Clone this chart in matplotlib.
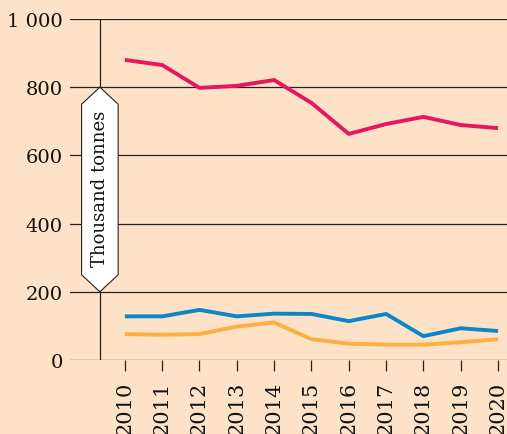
import matplotlib
matplotlib.use("Agg")
import matplotlib.pyplot as plt
from matplotlib.patches import Polygon

years = [2010, 2011, 2012, 2013, 2014, 2015, 2016, 2017, 2018, 2019, 2020]
red_series = [880, 865, 798, 804, 821, 754, 663, 692, 713, 689, 680]
blue_series = [128, 128, 147, 128, 136, 135, 114, 135, 70, 93, 85]
orange_series = [76, 74, 76, 98, 110, 61, 48, 45, 45, 52, 61]
y_ticks = [0, 200, 400, 600, 800, 1000]
y_tick_labels = ["0", "200", "400", "600", "800", "1 000"]
unit_label = "Thousand tonnes"

bg = "#FDE2C8"
plt.rcParams["font.family"] = ["DejaVu Serif"]

fig = plt.figure(figsize=(5.07, 4.35), dpi=100, facecolor=bg)
ax = fig.add_axes([70 / 507, 74 / 435, 437 / 507, 341 / 435], facecolor=bg)

ax.set_xlim(2008.53, 2020.24)
ax.set_ylim(0, 1000)

for v in y_ticks:
    ax.axhline(v, color="#222222", lw=0.9, zorder=1)

axis_x = 2009.33
ax.plot([axis_x, axis_x], [0, 1000], color="#222222", lw=0.9, zorder=1)

ax.plot(years, red_series, color="#E8175D", lw=2.8, zorder=3, solid_capstyle="butt")
ax.plot(years, blue_series, color="#0B86C8", lw=2.8, zorder=3, solid_capstyle="butt")
ax.plot(years, orange_series, color="#FBB040", lw=2.8, zorder=3, solid_capstyle="butt")

hw = 0.49
box = Polygon([(axis_x, 800), (axis_x + hw, 750), (axis_x + hw, 250),
               (axis_x, 200), (axis_x - hw, 250), (axis_x - hw, 750)],
              closed=True, facecolor="white", edgecolor="#222222", lw=0.8, zorder=4)
ax.add_patch(box)
ax.text(axis_x, 505, unit_label, rotation=90, ha="center", va="center",
        fontsize=13, color="#111111", zorder=5)

for s in ax.spines.values():
    s.set_visible(False)

ax.set_yticks(y_ticks)
ax.set_yticklabels(y_tick_labels, fontsize=14, color="#111111")
ax.tick_params(axis="y", length=0, pad=5)

ax.set_xticks(years)
ax.set_xticklabels([str(y) for y in years], rotation=90, fontsize=15, color="#111111")
ax.tick_params(axis="x", direction="out", length=8, width=0.9, color="#222222", pad=7)

fig.savefig("out.png", dpi=100, facecolor=bg)
